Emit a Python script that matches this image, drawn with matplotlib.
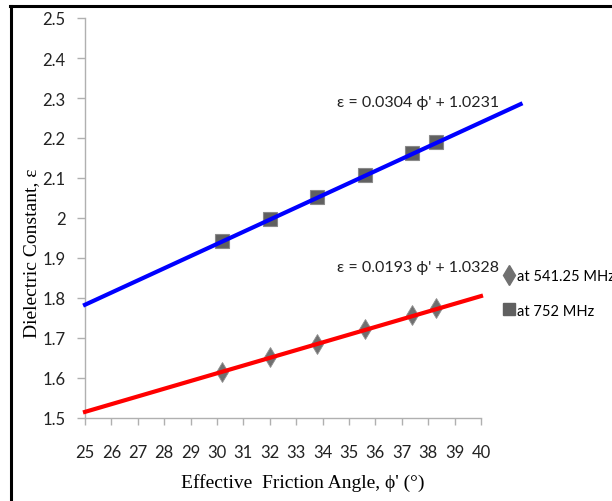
import numpy as np
import matplotlib.pyplot as plt
from matplotlib.lines import Line2D

# measured points
phi = [30.2, 32.0, 33.8, 35.6, 37.4, 38.3]
eps_541 = [1.615, 1.652, 1.686, 1.722, 1.757, 1.774]
eps_752 = [1.942, 1.998, 2.052, 2.107, 2.162, 2.190]

# trend lines (slope, intercept, x range)
fit_541 = (0.0193, 1.0328)
fit_752 = (0.0304, 1.0231)
x_fit_541 = [25, 40]
x_fit_752 = [25, 41.5]

xticks = list(range(25, 41))
yticks = [1.5, 1.6, 1.7, 1.8, 1.9, 2, 2.1, 2.2, 2.3, 2.4, 2.5]
ytick_labels = ['1.5', '1.6', '1.7', '1.8', '1.9', '2', '2.1', '2.2', '2.3', '2.4', '2.5']

tick_font = ['Lato', 'DejaVu Sans']
serif_font = ['Liberation Serif', 'DejaVu Serif']

W, H = 612, 502
fig = plt.figure(figsize=(W / 100, H / 100), dpi=100)
ax = fig.add_axes([85 / W, 1 - 419 / H, (481 - 85) / W, (419 - 19) / H])

xs = np.array(x_fit_752)
ax.plot(xs, fit_752[0] * xs + fit_752[1], color='#0000ff', lw=3, clip_on=False, zorder=3)
xs = np.array(x_fit_541)
ax.plot(xs, fit_541[0] * xs + fit_541[1], color='#ff0000', lw=3, clip_on=False, zorder=3)

ax.plot(phi, eps_752, ls='none', marker='s', ms=9.5, color='#606060',
        mec='#8a8a8a', mew=0.8, zorder=2)
ax.plot(phi, eps_541, ls='none', marker='d', ms=10, color='#707070',
        mec='#909090', mew=0.6, zorder=2)

ax.set_xlim(25, 40)
ax.set_ylim(1.5, 2.5)
ax.set_xticks(xticks)
ax.set_xticklabels([str(v) for v in xticks])
ax.set_yticks(yticks)
ax.set_yticklabels(ytick_labels)
for lab in ax.get_xticklabels() + ax.get_yticklabels():
    lab.set_family(tick_font)
    lab.set_fontsize(12)
    lab.set_color('#222222')
ax.tick_params(axis='x', length=5, width=1, color='#b0b0b0', pad=14)
ax.tick_params(axis='y', length=6, width=1, color='#b0b0b0', pad=8)
for s in ['top', 'right']:
    ax.spines[s].set_visible(False)
for s in ['left', 'bottom']:
    ax.spines[s].set_color('#b0b0b0')
    ax.spines[s].set_linewidth(1)

fig.text(418 / W, 1 - 103 / H, "ε = 0.0304 ϕ' + 1.0231", family=tick_font,
         fontsize=11.5, ha='center', va='center', color='#222222')
fig.text(418 / W, 1 - 268 / H, "ε = 0.0193 ϕ' + 1.0328", family=tick_font,
         fontsize=11.5, ha='center', va='center', color='#222222')

handles = [Line2D([], [], ls='none', marker='d', ms=10, color='#707070'),
           Line2D([], [], ls='none', marker='s', ms=9, color='#606060')]
leg = fig.legend(handles, ['at 541.25 MHz', 'at 752 MHz'], loc='upper left',
                 bbox_to_anchor=(491 / W, 1 - 257 / H), frameon=False,
                 handlelength=0.7, handletextpad=0.2, labelspacing=1.4,
                 prop={'family': tick_font, 'size': 10.5})

fig.text(303 / W, 1 - 483 / H, "Effective  Friction Angle, ϕ' (°)", family=serif_font,
         fontsize=14, ha='center', va='center')
fig.text(32 / W, 1 - 253 / H, "Dielectric Constant, ε", family=serif_font,
         fontsize=14, ha='center', va='center', rotation=90)

# black frame (cropped at right and bottom)
fig.add_artist(Line2D([11 / W, 11 / W], [0, 1 - 7 / H], color='black', lw=2.2,
                      transform=fig.transFigure))
fig.add_artist(Line2D([10 / W, 1], [1 - 7 / H, 1 - 7 / H], color='black', lw=2.2,
                      transform=fig.transFigure))

fig.savefig('out.png', dpi=100)
